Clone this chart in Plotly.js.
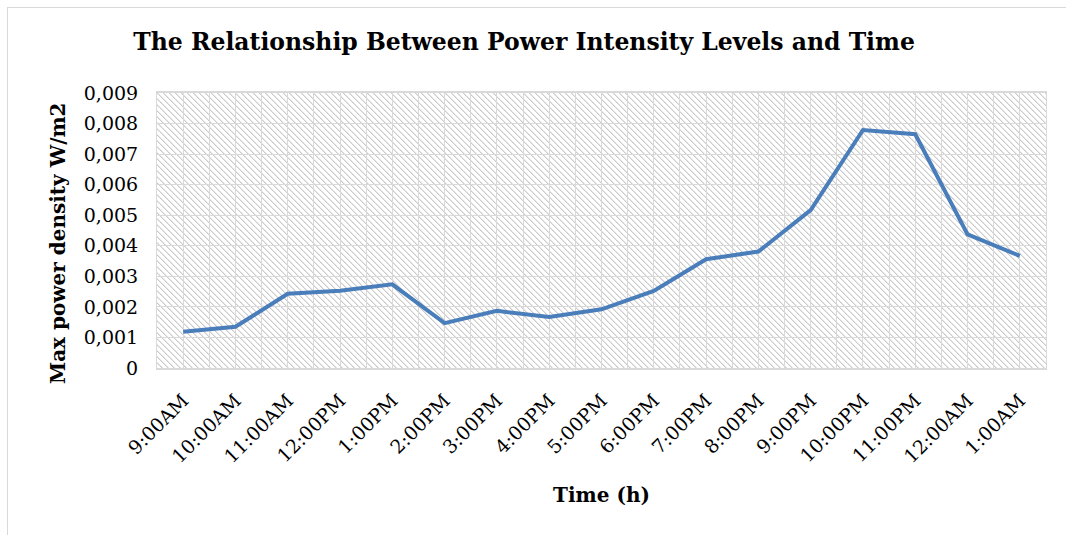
<!DOCTYPE html>
<html>
<head>
<meta charset="utf-8">
<script src="https://cdn.plot.ly/plotly-3.0.1.min.js"></script>
<style>
  html, body { margin: 0; padding: 0; background: #fff; }
  #wrap { position: relative; width: 1066px; height: 535px; overflow: hidden; background: #fff; }
  #frame { position: absolute; left: 7px; top: 7px; width: 1100px; height: 600px; border: 1.5px solid #d9d9d9; box-sizing: border-box; }
  #hatch { position: absolute; background-color: #fff; background-repeat: repeat; }
  #chart { position: absolute; left: 0; top: 0; width: 1066px; height: 535px; }
</style>
</head>
<body>
<div id="wrap">
  <div id="frame"></div>
  <div id="hatch"></div>
  <div id="chart"></div>
</div>
<script>
const categories = ["9:00AM","10:00AM","11:00AM","12:00PM","1:00PM","2:00PM","3:00PM","4:00PM","5:00PM","6:00PM","7:00PM","8:00PM","9:00PM","10:00PM","11:00PM","12:00AM","1:00AM"];
const maxPowerDensity = [0.00119,0.00135,0.00243,0.00253,0.00274,0.00147,0.00187,0.00167,0.00192,0.00252,0.00356,0.00381,0.00517,0.00779,0.00765,0.00437,0.00367];
const yTickValues = [0,0.001,0.002,0.003,0.004,0.005,0.006,0.007,0.008,0.009];
const yTickLabels = ["0","0,001","0,002","0,003","0,004","0,005","0,006","0,007","0,008","0,009"];

const xIndex = categories.map((c, i) => i);
const serif = "'DejaVu Serif', 'Liberation Serif', serif";

// hatch tile: "\" diagonal, 6px period
(function () {
  let rects = '';
  for (let i = 0; i < 6; i++) {
    rects += '<rect x="' + i + '" y="' + i + '" width="1" height="1" fill="#cccccc"/>';
    rects += '<rect x="' + ((i + 1) % 6) + '" y="' + i + '" width="1" height="1" fill="#e6e6e6"/>';
  }
  const svg = '<svg xmlns="http://www.w3.org/2000/svg" width="6" height="6" shape-rendering="crispEdges">' + rects + '</svg>';
  document.getElementById('hatch').style.backgroundImage = 'url("data:image/svg+xml;utf8,' + encodeURIComponent(svg) + '")';
})();

const trace = {
  type: 'scatter', mode: 'lines',
  x: xIndex, y: maxPowerDensity,
  line: { color: '#4a7ebb', width: 4 },
  hoverinfo: 'skip'
};

const plotL = 157, plotR = 1046, plotT = 93, plotB = 368;

const layout = {
  width: 1066, height: 535,
  margin: { l: plotL, r: 1066 - plotR, t: plotT, b: 535 - plotB },
  paper_bgcolor: 'rgba(0,0,0,0)',
  plot_bgcolor: 'rgba(0,0,0,0)',
  showlegend: false,
  separators: ', ',
  title: {
    text: '<b>The Relationship Between Power Intensity Levels and Time</b>',
    font: { family: serif, size: 23.5, color: '#000' },
    xref: 'container', x: 0.4916, xanchor: 'center',
    yref: 'container', y: 1 - 42/535, yanchor: 'middle'
  },
  xaxis: {
    range: [-0.5, categories.length - 0.5],
    tickmode: 'array', tickvals: xIndex, ticktext: categories,
    tickangle: -45,
    tickfont: { family: serif, size: 19, color: '#000' },
    ticks: '', ticklabelstandoff: 12,
    showgrid: true, gridcolor: '#d9d9d9', gridwidth: 1,
    minor: { tickmode: 'linear', tick0: -0.5, dtick: 1, showgrid: true, gridcolor: '#d9d9d9', gridwidth: 1, ticks: '' },
    showline: true, linecolor: '#d9d9d9', linewidth: 2, mirror: true,
    zeroline: false, fixedrange: true,
    title: { text: '<b>Time (h)</b>', font: { family: serif, size: 20, color: '#000' }, standoff: 22 }
  },
  yaxis: {
    range: [0, 0.009],
    tickmode: 'array', tickvals: yTickValues, ticktext: yTickLabels,
    tickfont: { family: serif, size: 19, color: '#000' },
    ticks: '', ticklabelstandoff: 14,
    showgrid: true, gridcolor: '#d9d9d9', gridwidth: 1,
    showline: true, linecolor: '#d9d9d9', linewidth: 1, mirror: true,
    zeroline: false, fixedrange: true
  },
  annotations: [{
    text: '<b>Max power density W/m2</b>',
    font: { family: serif, size: 20, color: '#000' },
    textangle: -90, showarrow: false,
    xref: 'paper', x: (58 - plotL) / (plotR - plotL), xanchor: 'center',
    yref: 'paper', y: (plotB - 243) / (plotB - plotT), yanchor: 'middle'
  }]
};

Plotly.newPlot('chart', [trace], layout, { displayModeBar: false, staticPlot: true }).then(function (gd) {
  const s = gd._fullLayout._size;
  const h = document.getElementById('hatch');
  h.style.left = s.l + 'px';
  h.style.top = s.t + 'px';
  h.style.width = s.w + 'px';
  h.style.height = s.h + 'px';
});
</script>
</body>
</html>
